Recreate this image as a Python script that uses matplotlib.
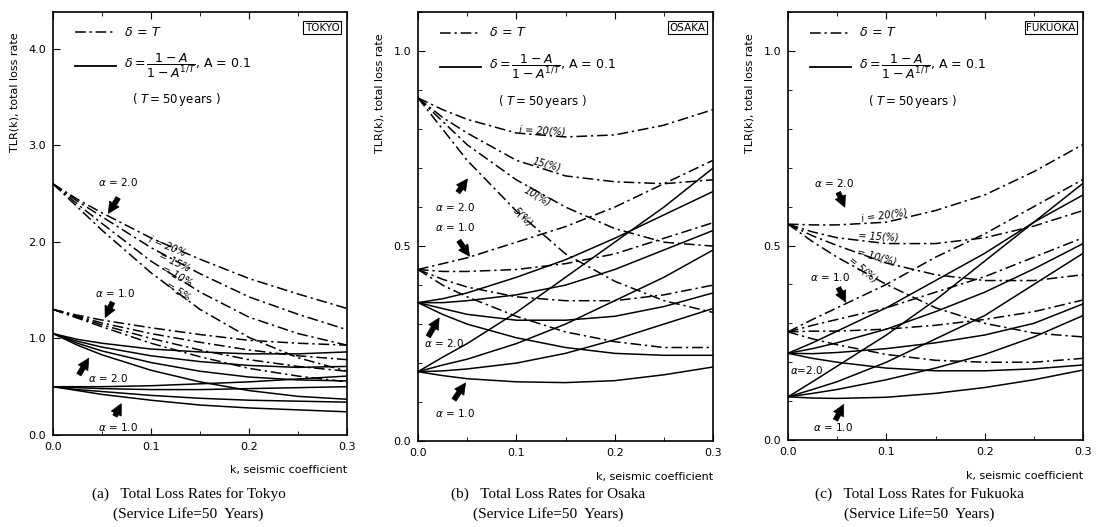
import matplotlib.pyplot as plt
from matplotlib.ticker import MultipleLocator, FormatStrFormatter

k = [0.0, 0.025, 0.05, 0.1, 0.15, 0.2, 0.25, 0.3]
rates = [20, 15, 10, 5]   # interest rate i (%), order of the rows below

# --- Tokyo ---
tokyo_dd_a2 = [[2.60, 2.44, 2.30, 2.04, 1.82, 1.62, 1.46, 1.31],
               [2.60, 2.42, 2.26, 1.94, 1.67, 1.43, 1.25, 1.09],
               [2.60, 2.39, 2.19, 1.80, 1.48, 1.22, 1.05, 0.93],
               [2.60, 2.36, 2.12, 1.68, 1.30, 1.01, 0.80, 0.66]]
tokyo_dd_a1 = [[1.30, 1.24, 1.19, 1.11, 1.04, 0.98, 0.95, 0.93],
               [1.30, 1.23, 1.16, 1.05, 0.96, 0.88, 0.82, 0.78],
               [1.30, 1.22, 1.14, 1.00, 0.88, 0.78, 0.71, 0.66],
               [1.30, 1.21, 1.12, 0.95, 0.81, 0.69, 0.61, 0.55]]
tokyo_sl_a2 = [[1.05, 0.99, 0.95, 0.89, 0.86, 0.84, 0.84, 0.86],
               [1.05, 0.97, 0.91, 0.82, 0.76, 0.72, 0.70, 0.71],
               [1.05, 0.95, 0.87, 0.75, 0.66, 0.60, 0.57, 0.56],
               [1.05, 0.93, 0.83, 0.67, 0.55, 0.46, 0.40, 0.37]]
tokyo_sl_a1 = [[0.50, 0.50, 0.50, 0.51, 0.53, 0.55, 0.58, 0.61],
               [0.50, 0.49, 0.48, 0.47, 0.47, 0.48, 0.49, 0.50],
               [0.50, 0.47, 0.45, 0.41, 0.38, 0.36, 0.35, 0.34],
               [0.50, 0.46, 0.42, 0.36, 0.31, 0.28, 0.26, 0.24]]

# --- Osaka ---
osaka_dd_a2 = [[0.88, 0.85, 0.825, 0.79, 0.78, 0.785, 0.81, 0.85],
               [0.88, 0.83, 0.79, 0.72, 0.68, 0.665, 0.66, 0.67],
               [0.88, 0.82, 0.76, 0.67, 0.60, 0.545, 0.51, 0.50],
               [0.88, 0.80, 0.72, 0.59, 0.48, 0.41, 0.36, 0.33]]
osaka_dd_a1 = [[0.44, 0.455, 0.47, 0.51, 0.55, 0.60, 0.66, 0.72],
               [0.44, 0.435, 0.435, 0.44, 0.455, 0.48, 0.52, 0.56],
               [0.44, 0.415, 0.395, 0.37, 0.36, 0.36, 0.375, 0.40],
               [0.44, 0.40, 0.37, 0.32, 0.28, 0.255, 0.24, 0.24]]
osaka_sl_a2 = [[0.355, 0.365, 0.38, 0.42, 0.465, 0.52, 0.58, 0.64],
               [0.355, 0.355, 0.36, 0.375, 0.40, 0.44, 0.49, 0.54],
               [0.355, 0.34, 0.325, 0.31, 0.31, 0.32, 0.345, 0.38],
               [0.355, 0.325, 0.30, 0.265, 0.24, 0.225, 0.22, 0.22]]
osaka_sl_a1 = [[0.178, 0.215, 0.25, 0.33, 0.42, 0.51, 0.60, 0.70],
               [0.178, 0.195, 0.21, 0.25, 0.30, 0.36, 0.42, 0.49],
               [0.178, 0.18, 0.185, 0.20, 0.225, 0.26, 0.30, 0.34],
               [0.178, 0.168, 0.16, 0.152, 0.15, 0.155, 0.17, 0.19]]

# --- Fukuoka ---
fukuoka_dd_a2 = [[0.555, 0.553, 0.553, 0.56, 0.59, 0.63, 0.69, 0.76],
                 [0.555, 0.535, 0.52, 0.505, 0.505, 0.52, 0.55, 0.59],
                 [0.555, 0.525, 0.50, 0.455, 0.425, 0.41, 0.41, 0.425],
                 [0.555, 0.51, 0.47, 0.40, 0.34, 0.30, 0.275, 0.265]]
fukuoka_dd_a1 = [[0.278, 0.31, 0.34, 0.40, 0.47, 0.53, 0.60, 0.67],
                 [0.278, 0.295, 0.31, 0.34, 0.38, 0.42, 0.47, 0.52],
                 [0.278, 0.28, 0.28, 0.285, 0.295, 0.31, 0.33, 0.36],
                 [0.278, 0.26, 0.245, 0.22, 0.205, 0.20, 0.20, 0.21]]
fukuoka_sl_a2 = [[0.223, 0.25, 0.28, 0.34, 0.41, 0.48, 0.56, 0.63],
                 [0.223, 0.235, 0.25, 0.285, 0.33, 0.38, 0.44, 0.505],
                 [0.223, 0.222, 0.225, 0.235, 0.25, 0.27, 0.30, 0.35],
                 [0.223, 0.21, 0.20, 0.185, 0.178, 0.178, 0.183, 0.193]]
fukuoka_sl_a1 = [[0.111, 0.15, 0.19, 0.27, 0.36, 0.46, 0.56, 0.66],
                 [0.111, 0.13, 0.15, 0.20, 0.26, 0.32, 0.40, 0.48],
                 [0.111, 0.12, 0.13, 0.155, 0.185, 0.22, 0.265, 0.32],
                 [0.111, 0.108, 0.107, 0.11, 0.12, 0.135, 0.155, 0.18]]

DASHDOT = (0, (7, 2.5, 1.5, 2.5))
SERIF = 'Liberation Serif'


def fat_arrow(ax, tail, head):
    ax.annotate('', xy=head, xytext=tail,
                arrowprops=dict(arrowstyle='simple,head_length=0.8,head_width=0.8,tail_width=0.35',
                                fc='k', ec='k', lw=0.5))


def draw_panel(ax, dd_a2, dd_a1, sl_a2, sl_a1, city, ymax, ymajor, yminor):
    for group in (dd_a2, dd_a1):
        for y in group:
            ax.plot(k, y, color='k', lw=1.1, linestyle=DASHDOT)
    for group in (sl_a2, sl_a1):
        for y in group:
            ax.plot(k, y, color='k', lw=1.1)

    ax.set_xlim(0, 0.3)
    ax.set_ylim(0, ymax)
    ax.xaxis.set_major_locator(MultipleLocator(0.1))
    ax.xaxis.set_minor_locator(MultipleLocator(0.05))
    ax.xaxis.set_major_formatter(FormatStrFormatter('%.1f'))
    ax.yaxis.set_major_locator(MultipleLocator(ymajor))
    if yminor:
        ax.yaxis.set_minor_locator(MultipleLocator(yminor))
    ax.yaxis.set_major_formatter(FormatStrFormatter('%.1f'))
    ax.tick_params(which='both', direction='in', top=True, labelsize=8, pad=5)
    ax.tick_params(which='major', length=5)
    ax.tick_params(which='minor', length=3)
    for s in ax.spines.values():
        s.set_linewidth(1.2)

    ax.text(1.0, -0.072, 'k, seismic coefficient', transform=ax.transAxes,
            ha='right', va='top', fontsize=8)
    ax.text(-0.13, 0.81, 'TLR(k), total loss rate', transform=ax.transAxes,
            rotation=90, ha='center', va='center', fontsize=8)

    # legend-like block
    tr = ax.transAxes
    ax.plot([0.075, 0.215], [0.952, 0.952], transform=tr, color='k', lw=1.1, linestyle=DASHDOT)
    ax.text(0.24, 0.952, r'$\delta\,=\,T$', transform=tr, va='center', fontsize=9)
    ax.plot([0.075, 0.215], [0.872, 0.872], transform=tr, color='k', lw=1.3)
    ax.text(0.24, 0.872, r'$\delta = \dfrac{1-A}{1-A^{1/T}}$, A = 0.1', transform=tr,
            va='center', fontsize=9)
    ax.text(0.42, 0.792, r'$\left(\ T = 50\,\mathrm{years}\ \right)$', transform=tr,
            ha='center', va='center', fontsize=8.5)
    ax.text(0.975, 0.975, city, transform=tr, ha='right', va='top', fontsize=7.5,
            bbox=dict(boxstyle='square,pad=0.15', fc='white', ec='k', lw=0.8))


fig = plt.figure(figsize=(10.97, 5.27), dpi=100)
ax_a = fig.add_axes([0.0483, 0.1746, 0.268, 0.8027])
ax_b = fig.add_axes([0.381, 0.163, 0.269, 0.814])
ax_c = fig.add_axes([0.7183, 0.165, 0.269, 0.812])

draw_panel(ax_a, tokyo_dd_a2, tokyo_dd_a1, tokyo_sl_a2, tokyo_sl_a1, 'TOKYO', 4.38, 1.0, None)
draw_panel(ax_b, osaka_dd_a2, osaka_dd_a1, osaka_sl_a2, osaka_sl_a1, 'OSAKA', 1.10, 0.5, 0.1)
draw_panel(ax_c, fukuoka_dd_a2, fukuoka_dd_a1, fukuoka_sl_a2, fukuoka_sl_a1, 'FUKUOKA', 1.10, 0.5, 0.1)

fs = 7.5
# Tokyo annotations
ax_a.text(0.066, 2.62, r'$\alpha$ = 2.0', ha='center', va='center', fontsize=fs)
fat_arrow(ax_a, (0.068, 2.48), (0.055, 2.27))
ax_a.text(0.063, 1.47, r'$\alpha$ = 1.0', ha='center', va='center', fontsize=fs)
fat_arrow(ax_a, (0.062, 1.40), (0.052, 1.19))
ax_a.text(0.056, 0.59, r'$\alpha$ = 2.0', ha='center', va='center', fontsize=fs)
fat_arrow(ax_a, (0.025, 0.60), (0.038, 0.82))
ax_a.text(0.066, 0.083, r'$\alpha$ = 1.0', ha='center', va='center', fontsize=fs)
fat_arrow(ax_a, (0.062, 0.17), (0.071, 0.35))
for (x, y, r, s) in [(0.117, 1.95, -22, 'i = 20%'), (0.124, 1.79, -25, '= 15%'),
                     (0.127, 1.64, -28, '= 10%'), (0.128, 1.49, -32, '= 5%')]:
    ax_a.text(x, y, s, rotation=r, ha='center', va='center', fontsize=7, style='italic')

# Osaka annotations
for (x, y, r, s) in [(0.126, 0.795, -3, 'i = 20(%)'), (0.131, 0.71, -15, '15(%)'),
                     (0.121, 0.628, -30, '10(%)'), (0.107, 0.574, -45, '5(%)')]:
    ax_b.text(x, y, s, rotation=r, ha='center', va='center', fontsize=7, style='italic')
fat_arrow(ax_b, (0.039, 0.632), (0.052, 0.678))
ax_b.text(0.038, 0.60, r'$\alpha$ = 2.0', ha='center', va='center', fontsize=fs)
ax_b.text(0.038, 0.549, r'$\alpha$ = 1.0', ha='center', va='center', fontsize=fs)
fat_arrow(ax_b, (0.040, 0.52), (0.054, 0.468))
ax_b.text(0.026, 0.251, r'$\alpha$ = 2.0', ha='center', va='center', fontsize=fs)
fat_arrow(ax_b, (0.009, 0.262), (0.023, 0.322))
ax_b.text(0.038, 0.072, r'$\alpha$ = 1.0', ha='center', va='center', fontsize=fs)
fat_arrow(ax_b, (0.035, 0.100), (0.050, 0.155))

# Fukuoka annotations
ax_c.text(0.047, 0.66, r'$\alpha$ = 2.0', ha='center', va='center', fontsize=fs)
fat_arrow(ax_c, (0.050, 0.643), (0.059, 0.592))
for (x, y, r, s) in [(0.098, 0.578, 8, 'i = 20(%)'), (0.092, 0.522, -3, '= 15(%)'),
                     (0.090, 0.47, -15, '= 10(%)'), (0.076, 0.437, -40, '= 5(%)')]:
    ax_c.text(x, y, s, rotation=r, ha='center', va='center', fontsize=7, style='italic')
ax_c.text(0.043, 0.419, r'$\alpha$ = 1.0', ha='center', va='center', fontsize=fs)
fat_arrow(ax_c, (0.050, 0.398), (0.060, 0.348))
ax_c.text(0.002, 0.18, r'$\alpha$=2.0', ha='left', va='center', fontsize=fs)
ax_c.text(0.046, 0.033, r'$\alpha$ = 1.0', ha='center', va='center', fontsize=fs)
fat_arrow(ax_c, (0.047, 0.045), (0.058, 0.098))

# captions
captions = [(0.172, 'Tokyo', '(a)'), (0.500, 'Osaka', '(b)'), (0.838, 'Fukuoka', '(c)')]
for (x, city, tag) in captions:
    fig.text(x, 0.063, tag + '   Total Loss Rates for ' + city, ha='center', va='center',
             fontsize=11, family=SERIF)
    fig.text(x, 0.025, '(Service Life=50  Years)', ha='center', va='center',
             fontsize=11, family=SERIF)

fig.savefig('out.png', dpi=100)
